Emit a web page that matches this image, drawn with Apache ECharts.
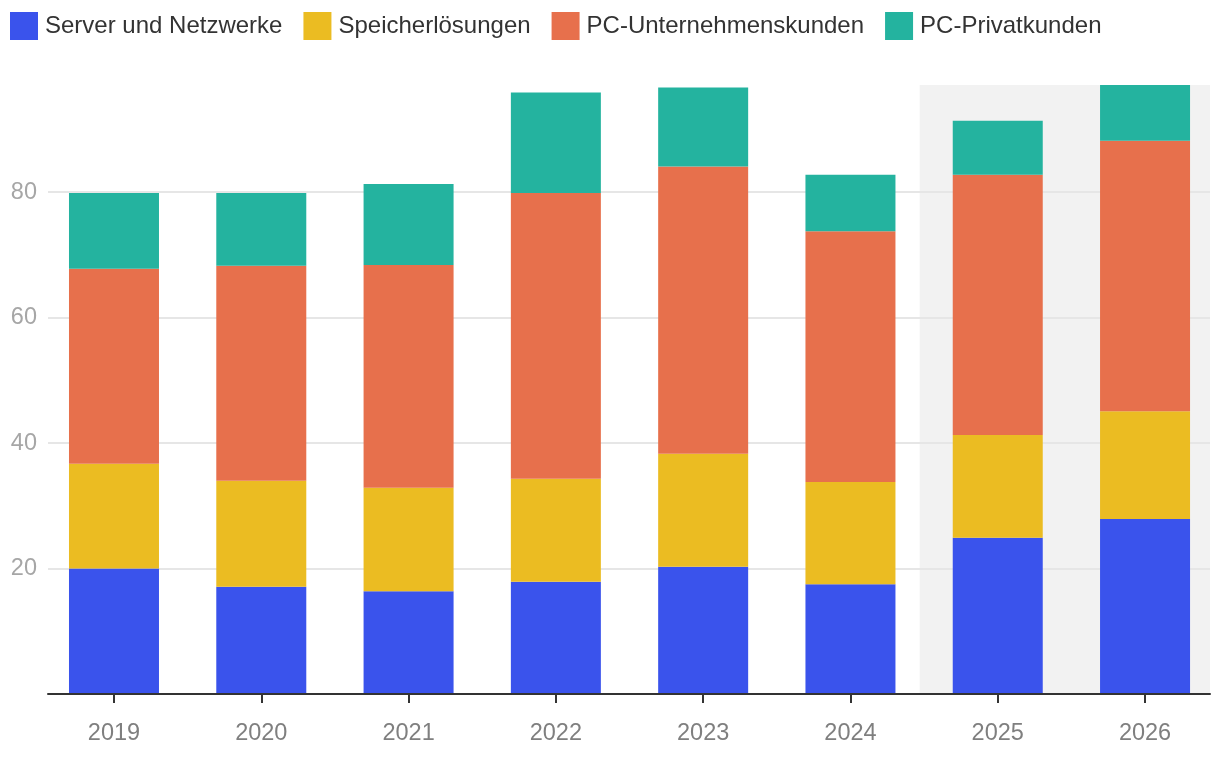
<!DOCTYPE html>
<html>
<head>
<meta charset="utf-8">
<script src="https://cdn.jsdelivr.net/npm/echarts@6/dist/echarts.min.js"></script>
<style>
html,body{margin:0;padding:0;background:#fff;}
#chart{width:1220px;height:758px;}
</style>
</head>
<body>
<div id="chart"></div>
<script>
var years = ['2019','2020','2021','2022','2023','2024','2025','2026'];
var seriesNames = ['Server und Netzwerke','Speicherlösungen','PC-Unternehmenskunden','PC-Privatkunden'];
var server = [20.0, 17.1, 16.4, 17.9, 20.3, 17.5, 24.9, 27.9];
var storage = [16.7, 16.9, 16.5, 16.4, 18.0, 16.3, 16.4, 17.2];
var pcBusiness = [31.1, 34.3, 35.5, 45.6, 45.8, 40.0, 41.5, 43.1];
var pcConsumer = [12.1, 11.6, 12.9, 16.0, 12.6, 9.0, 8.6, 8.9];
var yTicks = [20, 40, 60, 80];
var colors = ['#3a53ec','#ebbc22','#e7704c','#24b39f'];
var forecastStart = '2025';

var allValues = [server, storage, pcBusiness, pcConsumer];
var idx = years.map(function(_, i){ return i; });
var xMin = -0.448, xMax = 7.441;
var fs = years.indexOf(forecastStart) - 0.53;
var totals = idx.map(function(i){
  return allValues.reduce(function(a, arr){ return a + arr[i]; }, 0);
});
var yMax = Math.max.apply(null, totals);

var font = 'Liberation Sans, Arial, Helvetica, sans-serif';

var series = seriesNames.map(function(name, s){
  var o = {
    name: name,
    type: 'bar',
    stack: 'total',
    barWidth: 90,
    encode: {x: 1, y: 0},
    itemStyle: {color: colors[s]},
    emphasis: {disabled: true},
    data: allValues[s].map(function(v, i){ return [v, i]; })
  };
  if (s === 0) {
    o.markArea = {
      silent: true,
      z: -10,
      itemStyle: {color: '#f2f2f2'},
      data: [[{xAxis: fs}, {xAxis: xMax}]]
    };
  }
  return o;
});

var chart = echarts.init(document.getElementById('chart'), null, {renderer: 'canvas'});
chart.setOption({
  animation: false,
  backgroundColor: '#ffffff',
  textStyle: {fontFamily: font},
  legend: {
    left: 5, top: 7,
    icon: 'rect',
    itemWidth: 28, itemHeight: 28, itemGap: 21,
    textStyle: {fontSize: 24, color: '#333333', fontFamily: font, padding: [0,0,0,2]},
    data: seriesNames
  },
  grid: {left: 48, right: 10, top: 85, bottom: 64, containLabel: false},
  xAxis: {
    type: 'value',
    min: xMin, max: xMax,
    z: 5,
    axisLine: {show: true, lineStyle: {color: '#333333', width: 2}},
    axisTick: {show: true, length: 9, lineStyle: {color: '#333333', width: 2}, customValues: idx},
    axisLabel: {
      customValues: idx,
      margin: 28,
      fontSize: 23.5, color: '#7f7f7f', fontFamily: font,
      formatter: function(v){ return years[Math.round(v)]; }
    },
    splitLine: {show: false}
  },
  yAxis: {
    type: 'value',
    min: 0, max: yMax, interval: 20,
    axisLine: {show: false},
    axisTick: {show: false},
    axisLabel: {
      customValues: yTicks,
      margin: 11, fontSize: 23.5, color: '#a6a6a6', fontFamily: font
    },
    splitLine: {show: true, showMinLine: false, showMaxLine: false, lineStyle: {color: '#e6e6e6', width: 2}}
  },
  series: series
});
</script>
</body>
</html>
